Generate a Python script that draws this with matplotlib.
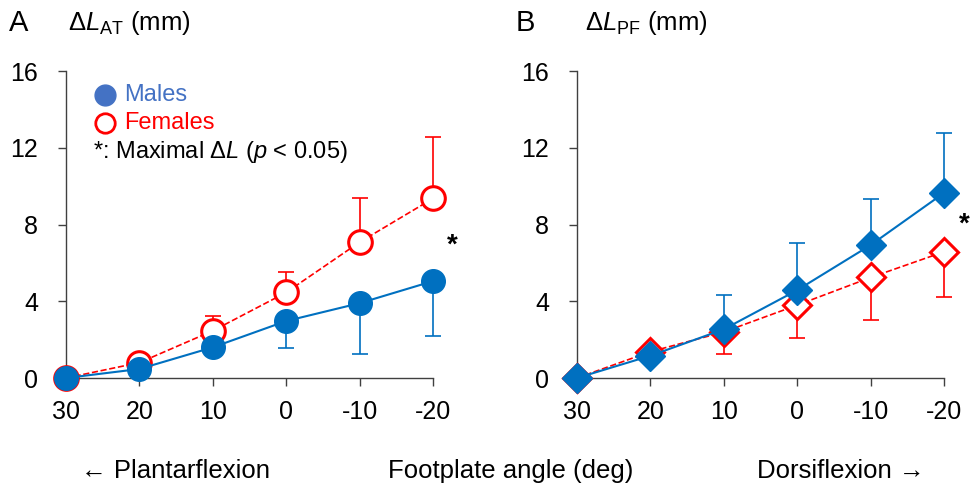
import numpy as np
import matplotlib
matplotlib.use('Agg')
import matplotlib.pyplot as plt

plt.rcParams['font.family'] = ['Liberation Sans', 'DejaVu Sans']
plt.rcParams['mathtext.fontset'] = 'custom'
plt.rcParams['mathtext.rm'] = 'Liberation Sans'
plt.rcParams['mathtext.it'] = 'Liberation Sans:italic'
plt.rcParams['mathtext.bf'] = 'Liberation Sans:bold'

# Footplate angle (deg)
angles = [30, 20, 10, 0, -10, -20]
angle_labels = ['30', '20', '10', '0', '-10', '-20']

# Panel A: delta L of Achilles tendon (mm)
at_males = [0.0, 0.47, 1.6, 2.97, 3.9, 5.05]
at_males_sd = [0.0, 0.2, 0.4, 1.42, 2.65, 2.85]
at_females = [0.0, 0.8, 2.46, 4.46, 7.08, 9.36]
at_females_sd = [0.0, 0.3, 0.77, 1.08, 2.31, 3.18]

# Panel B: delta L of plantar fascia (mm)
pf_males = [0.0, 1.16, 2.54, 4.58, 6.93, 9.65]
pf_males_sd = [0.0, 0.3, 1.78, 2.47, 2.39, 3.13]
pf_females = [0.0, 1.37, 2.4, 3.8, 5.24, 6.58]
pf_females_sd = [0.0, 0.3, 1.13, 1.72, 2.24, 2.36]

blue = '#0070C0'
legend_blue = '#4472C4'
red = '#FF0000'

fig = plt.figure(figsize=(9.73, 4.87), dpi=100)
axA = fig.add_axes([0.0678, 0.2238, 0.3772, 0.6302])
axB = fig.add_axes([0.593, 0.2238, 0.3772, 0.6302])


def style_axis(ax):
    ax.set_xlim(30, -20)
    ax.set_ylim(0, 16)
    ax.set_xticks(angles)
    ax.set_xticklabels(angle_labels)
    ax.set_yticks([0, 4, 8, 12, 16])
    for s in ['top', 'right']:
        ax.spines[s].set_visible(False)
    for s in ['left', 'bottom']:
        ax.spines[s].set_color('#404040')
        ax.spines[s].set_linewidth(1.0)
    ax.tick_params(direction='out', length=6, width=1.0, color='#404040',
                   labelsize=18, pad=10)
    ax.tick_params(axis='y', pad=14)


# Panel A
style_axis(axA)
# error bars (males down, females up)
axA.errorbar(angles, at_males, yerr=[at_males_sd, np.zeros(6)], fmt='none',
             ecolor=blue, elinewidth=1.2, capsize=6, capthick=1.2, clip_on=False, zorder=2)
axA.errorbar(angles, at_females, yerr=[np.zeros(6), at_females_sd], fmt='none',
             ecolor=red, elinewidth=1.2, capsize=6, capthick=1.2, clip_on=False, zorder=2)
axA.plot(angles, at_females, '--', color=red, lw=1.2, marker='o', ms=17,
         mfc='white', mec=red, mew=2.2, clip_on=False, zorder=3)
axA.plot(angles, at_males, '-', color=blue, lw=1.5, marker='o', ms=17,
         mfc=blue, mec=blue, clip_on=False, zorder=4)
axA.text(-22.6, 6.9, '*', fontsize=20, fontweight='bold', ha='center', va='center')

# legend drawn manually
axA.plot([0.106], [0.922], 'o', ms=15, color=legend_blue, transform=axA.transAxes, clip_on=False)
axA.text(0.158, 0.922, 'Males', color=legend_blue, fontsize=17, va='center',
         transform=axA.transAxes)
axA.plot([0.106], [0.83], 'o', ms=14, mfc='white', mec=red, mew=2,
         transform=axA.transAxes, clip_on=False)
axA.text(0.158, 0.83, 'Females', color=red, fontsize=17, va='center',
         transform=axA.transAxes)
axA.text(0.075, 0.735, r'*: Maximal $\Delta L$ $(p$ < 0.05)', fontsize=17, va='center',
         transform=axA.transAxes)

# Panel B
style_axis(axB)
axB.errorbar(angles, pf_males, yerr=[np.zeros(6), pf_males_sd], fmt='none',
             ecolor=blue, elinewidth=1.2, capsize=6, capthick=1.2, clip_on=False, zorder=2)
axB.errorbar(angles, pf_females, yerr=[pf_females_sd, np.zeros(6)], fmt='none',
             ecolor=red, elinewidth=1.2, capsize=6, capthick=1.2, clip_on=False, zorder=2)
axB.plot(angles, pf_females, '--', color=red, lw=1.2, marker='D', ms=14,
         mfc='white', mec=red, mew=2.2, clip_on=False, zorder=3)
axB.plot(angles, pf_males, '-', color=blue, lw=1.5, marker='D', ms=15,
         mfc=blue, mec=blue, clip_on=False, zorder=4)
axB.text(-22.8, 8.0, '*', fontsize=20, fontweight='bold', ha='center', va='center')

# panel titles
fig.text(0.009, 0.953, 'A', fontsize=21, va='center')
fig.text(0.070, 0.953, r'$\Delta L_{\mathrm{AT}}$ (mm)', fontsize=18.5, va='center')
fig.text(0.530, 0.953, 'B', fontsize=21, va='center')
fig.text(0.601, 0.953, r'$\Delta L_{\mathrm{PF}}$ (mm)', fontsize=18.5, va='center')

# bottom labels
fig.text(0.180, 0.032, '\u2190 Plantarflexion', fontsize=18.5, ha='center', va='center')
fig.text(0.525, 0.032, 'Footplate angle (deg)', fontsize=18.5, ha='center', va='center')
fig.text(0.864, 0.032, 'Dorsiflexion \u2192', fontsize=18.5, ha='center', va='center')

fig.savefig('out.png', dpi=100)
